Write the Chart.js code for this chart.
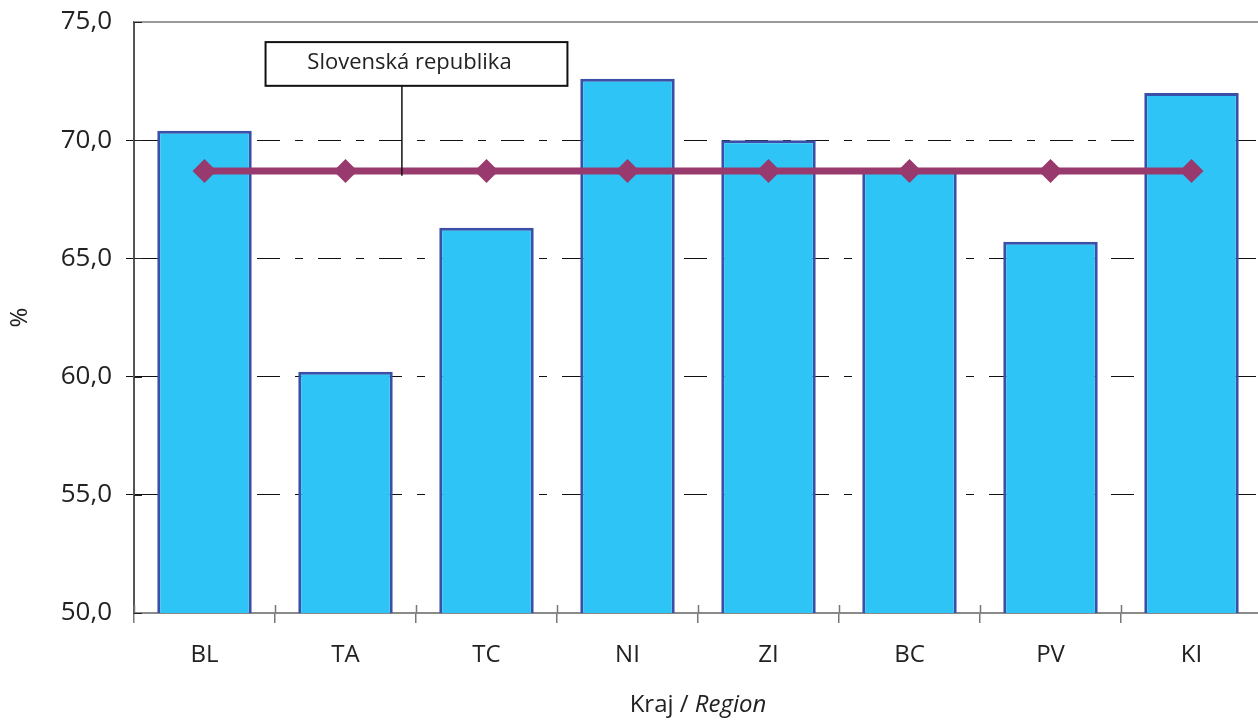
<!DOCTYPE html>
<html>
<head>
<meta charset="utf-8">
<script src="https://cdn.jsdelivr.net/npm/chart.js@4"></script>
<style>
html,body{margin:0;padding:0;overflow:hidden;background:#fff;}
#wrap{width:1274px;height:722px;position:relative;}
</style>
</head>
<body>
<div id="wrap"><canvas id="c"></canvas></div>
<script>
const categories = ['BL', 'TA', 'TC', 'NI', 'ZI', 'BC', 'PV', 'KI'];
const regionValues = [70.4, 60.2, 66.3, 72.6, 70.0, 68.8, 65.7, 72.0];
const slovakiaValues = [68.7, 68.7, 68.7, 68.7, 68.7, 68.7, 68.7, 68.7];
const yTicks = [50, 55, 60, 65, 70, 75];
const annotationLabel = 'Slovenská republika';
const xTitleA = 'Kraj / ';
const xTitleB = 'Region';
const yTitle = '%';

const FONT = '"Open Sans", "Noto Sans", sans-serif';
const TXT = '#222222';

const decorPlugin = {
  id: 'decor',
  beforeDatasetsDraw(chart) {
    const {ctx, chartArea: ca, scales: {x, y}} = chart;
    ctx.save();
    ctx.strokeStyle = '#9a9a9a';
    ctx.lineWidth = 2;
    ctx.beginPath();
    ctx.moveTo(ca.left, ca.top);
    ctx.lineTo(ca.right, ca.top);
    ctx.stroke();
    ctx.strokeStyle = '#777';
    ctx.lineWidth = 1.5;
    const w = x.getPixelForValue(1) - x.getPixelForValue(0);
    for (let i = 0; i <= categories.length; i++) {
      const px = Math.round(x.getPixelForValue(0) - w / 2 + i * w) + 0.5;
      ctx.beginPath();
      ctx.moveTo(px, ca.bottom - 8);
      ctx.lineTo(px, ca.bottom);
      ctx.stroke();
    }
    ctx.strokeStyle = '#222';
    ctx.lineWidth = 1;
    yTicks.forEach(v => {
      const py = Math.round(y.getPixelForValue(v)) + 0.5;
      ctx.beginPath();
      ctx.moveTo(ca.left, py);
      ctx.lineTo(ca.left + 8, py);
      ctx.stroke();
    });
    ctx.restore();
  },
  afterDraw(chart) {
    const {ctx, chartArea: ca, scales: {x, y}} = chart;
    ctx.save();
    const w = x.getPixelForValue(1) - x.getPixelForValue(0);
    const c1 = x.getPixelForValue(1);
    const leadX = c1 + 0.4 * w;
    const boxL = c1 - 0.567 * w, boxR = c1 + 1.574 * w;
    const boxT = y.getPixelForValue(74.15), boxB = y.getPixelForValue(72.3);
    ctx.strokeStyle = '#111';
    ctx.lineWidth = 1.5;
    ctx.beginPath();
    ctx.moveTo(leadX, boxB);
    ctx.lineTo(leadX, y.getPixelForValue(68.5));
    ctx.stroke();
    ctx.fillStyle = '#fff';
    ctx.fillRect(boxL, boxT, boxR - boxL, boxB - boxT);
    ctx.lineWidth = 2;
    ctx.strokeRect(boxL, boxT, boxR - boxL, boxB - boxT);
    ctx.fillStyle = TXT;
    ctx.font = '22px ' + FONT;
    ctx.textAlign = 'center';
    ctx.textBaseline = 'middle';
    ctx.fillText(annotationLabel, (boxL + boxR) / 2 - 7, (boxT + boxB) / 2 - 1);
    ctx.font = '24px ' + FONT;
    const wA = ctx.measureText(xTitleA).width;
    ctx.font = 'italic 24px ' + FONT;
    const wB = ctx.measureText(xTitleB).width;
    const cx = (ca.left + ca.right) / 2;
    let sx = cx - (wA + wB) / 2;
    const ty = 705;
    ctx.textAlign = 'left';
    ctx.font = '24px ' + FONT;
    ctx.fillText(xTitleA, sx, ty);
    ctx.font = 'italic 24px ' + FONT;
    ctx.fillText(xTitleB, sx + wA, ty);
    ctx.restore();
  }
};

new Chart(document.getElementById('c'), {
  data: {
    labels: categories,
    datasets: [
      {
        type: 'line',
        label: annotationLabel,
        data: slovakiaValues,
        borderColor: '#993A6E',
        backgroundColor: '#993A6E',
        borderWidth: 7,
        pointStyle: 'rectRot',
        pointRadius: 12,
        pointBackgroundColor: '#993A6E',
        pointBorderWidth: 0,
        order: 0
      },
      {
        type: 'bar',
        label: 'Kraj',
        data: regionValues,
        backgroundColor: '#2EC4F5',
        borderColor: '#3A50A8',
        borderWidth: 3,
        borderSkipped: false,
        barPercentage: 0.67,
        categoryPercentage: 1.0,
        order: 1
      }
    ]
  },
  options: {
    responsive: true,
    maintainAspectRatio: false,
    animation: false,
    layout: {padding: {top: 22, right: 0, left: 0, bottom: 0}},
    plugins: {legend: {display: false}, tooltip: {enabled: false}},
    scales: {
      x: {
        offset: true,
        grid: {display: true, drawOnChartArea: false, drawTicks: true, tickLength: 10, color: '#777', lineWidth: 1.5, offset: true},
        border: {display: true, color: '#8a8a8a', width: 2},
        ticks: {font: {family: FONT, size: 24}, color: TXT, padding: 18},
        afterFit(s) { s.height = 109; s.paddingLeft = 0; s.paddingRight = 0; }
      },
      y: {
        min: 50, max: 75,
        afterBuildTicks(s) { s.ticks = yTicks.map(v => ({value: v})); },
        grid: {
          display: true, drawTicks: true, tickLength: 8,
          color: ctx => (ctx.tick && (ctx.tick.value === 50 || ctx.tick.value === 75)) ? 'rgba(0,0,0,0)' : '#111',
          lineWidth: 1
        },
        border: {display: true, color: '#555', width: 2, dash: [23, 15, 8, 15]},
        ticks: {
          font: {family: FONT, size: 26}, color: TXT, padding: 14,
          callback: v => v.toFixed(1).replace('.', ',')
        },
        title: {display: true, text: yTitle, font: {family: FONT, size: 24}, color: TXT, padding: {top: 6, bottom: 0}},
        afterFit(s) { s.width = 134; s.paddingTop = 0; s.paddingBottom = 0; }
      }
    }
  },
  plugins: [decorPlugin]
});
</script>
</body>
</html>
